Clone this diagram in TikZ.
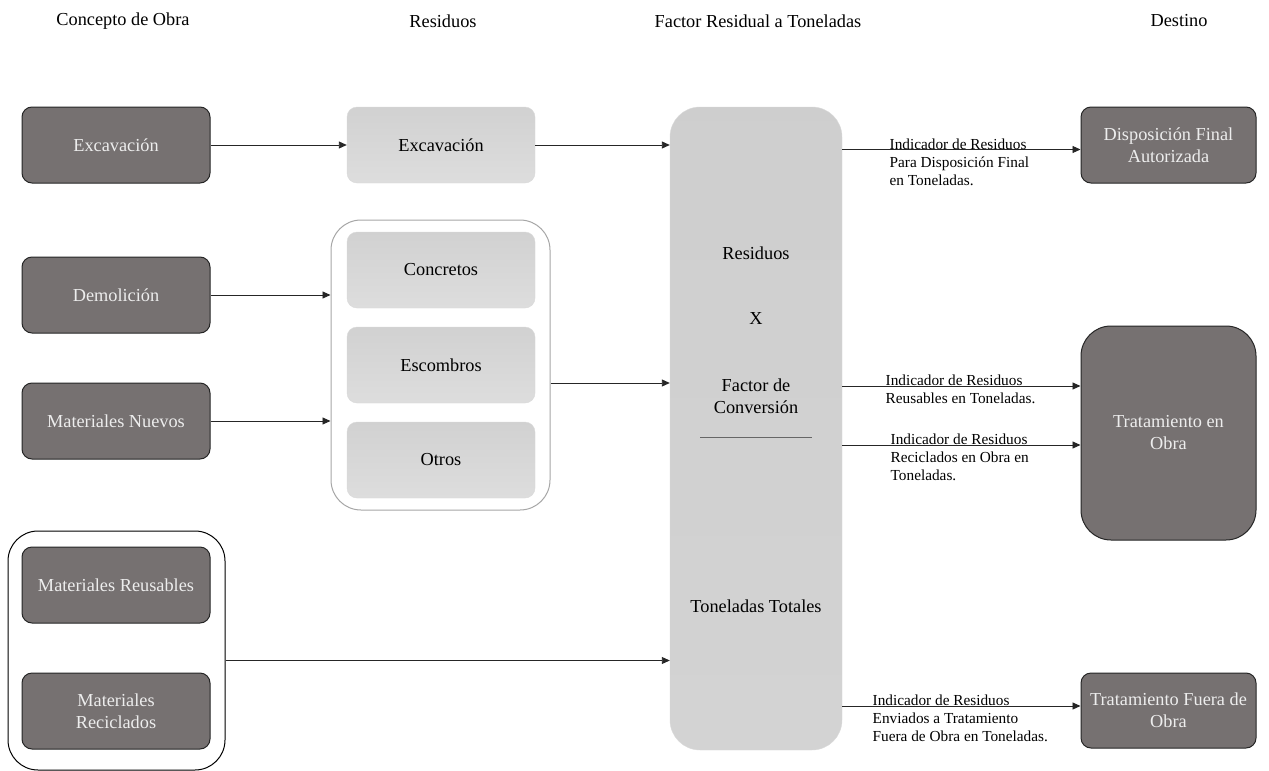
\documentclass[tikz,border=0pt]{standalone}
\usepackage{fontspec}
\setmainfont{Liberation Serif}
\usetikzlibrary{arrows.meta}
\definecolor{boxdark}{HTML}{767171}
\definecolor{boxlight}{HTML}{C9C9C9}
\begin{document}
\begin{tikzpicture}[x=1pt,y=-1pt,
  darkbox/.style={draw=black!85,line width=1pt,fill=boxdark,text=white!93!black,rounded corners=10pt,minimum width=188pt,minimum height=76pt,inner sep=0pt,align=center,font=\fontsize{18.3}{22}\selectfont},
  lightbox/.style={draw=black!15,top color=boxlight!85,bottom color=boxlight!110!black,rounded corners=10pt,minimum width=188pt,minimum height=76pt,inner sep=0pt,align=center,font=\fontsize{18.3}{22}\selectfont},
  grpframe/.style={draw=#1,line width=1pt,fill=white,rounded corners=30pt,inner sep=0pt},
  head/.style={font=\fontsize{18.3}{22}\selectfont},
  lbl/.style={align=left,inner sep=0pt,anchor=north west,yshift=11.5pt,font=\fontsize{15.3}{18}\selectfont},
  flow/.style={draw=black!85,line width=0.9pt,-{Triangle[length=8pt,width=7pt]}}]
\useasboundingbox (0,0) rectangle (1269,771);
% column heads
\foreach \x/\t in {123/Concepto de Obra,443/Residuos,758/Factor Residual a Toneladas,1179/Destino}
  \node[head] (h\x) at (\x,21) {\t};
% concepto de obra
\node[darkbox] (exc) at (116,145) {Excavación};
\node[darkbox] (dem) at (116,295) {Demolición};
\node[darkbox] (matn) at (116,421) {Materiales Nuevos};
\node[grpframe=black,minimum width=217pt,minimum height=239pt] (lgrp) at (116.5,650.5) {};
\node[darkbox] (matreu) at (116,585) {Materiales Reusables};
\node[darkbox] (matrec) at (116,711) {Materiales\\Reciclados};
% residuos
\node[lightbox] (rexc) at (441,145) {Excavación};
\node[grpframe=black!35,minimum width=219pt,minimum height=290pt] (rgrp) at (440.5,365) {};
\node[lightbox] (conc) at (441,270) {Concretos};
\node[lightbox] (esc) at (441,365) {Escombros};
\node[lightbox] (otr) at (441,460) {Otros};
% factor
\node[draw=black!15,top color=boxlight!90,bottom color=boxlight!105!black,rounded corners=30pt,minimum width=172pt,minimum height=643pt,inner sep=0pt] (fac) at (756,428.5) {};
\node[head] (fres) at (756,253) {Residuos};
\node[head] (fx) at (756,319) {X};
\node[head,align=center] (fconv) at (756,396) {Factor de\\Conversión};
\draw[black!60,line width=1pt] (700,437) -- (812,437);
\node[head] (ftot) at (756,606) {Toneladas Totales};
% destino
\node[darkbox,minimum width=175pt] (disp) at (1168.5,145) {Disposición Final\\Autorizada};
\node[darkbox,minimum width=175pt,minimum height=214pt,rounded corners=30pt] (trat) at (1168.5,433) {Tratamiento en\\Obra};
\node[darkbox,minimum width=175pt,minimum height=75pt] (fuera) at (1168.5,710.5) {Tratamiento Fuera de\\Obra};
% flechas
\draw[flow] (exc.east) -- (rexc.west);
\draw[flow] (rexc.east) -- (rexc.east -| fac.west);
\draw[flow] (dem.east) -- (dem.east -| rgrp.west);
\draw[flow] (matn.east) -- (matn.east -| rgrp.west);
\draw[flow] ([yshift=-18pt]rgrp.east) -- ([yshift=-18pt]rgrp.east -| fac.west);
\draw[flow] ([yshift=-10pt]lgrp.east) -- ([yshift=-10pt]lgrp.east -| fac.west);
\coordinate (d1) at ([yshift=-4.5pt]disp.west);
\coordinate (t1) at ([yshift=47pt]trat.west);
\coordinate (t2) at ([yshift=-12pt]trat.west);
\coordinate (f1) at ([yshift=4.5pt]fuera.west);
\draw[flow] (d1 -| fac.east) -- (d1) node[lbl,pos=0,xshift=47pt] (l1) {Indicador de Residuos\\Para Disposición Final\\en Toneladas.};
\draw[flow] (t1 -| fac.east) -- (t1) node[lbl,pos=0,xshift=43pt] (l2) {Indicador de Residuos\\Reusables en Toneladas.};
\draw[flow] (t2 -| fac.east) -- (t2) node[lbl,pos=0,xshift=48pt] (l3) {Indicador de Residuos\\Reciclados en Obra en\\Toneladas.};
\draw[flow] (f1 -| fac.east) -- (f1) node[lbl,pos=0,xshift=30pt] (l4) {Indicador de Residuos\\Enviados a Tratamiento\\Fuera de Obra en Toneladas.};
\end{tikzpicture}
\end{document}
